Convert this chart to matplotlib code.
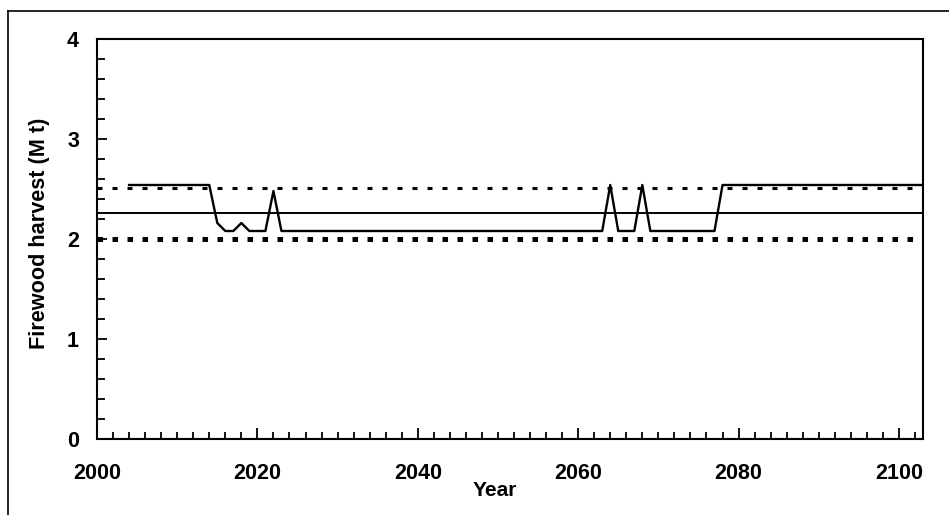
import matplotlib
matplotlib.use("Agg")
import matplotlib.pyplot as plt
from matplotlib.lines import Line2D
from matplotlib.ticker import MultipleLocator

plt.rcParams['font.family'] = ['Liberation Sans', 'DejaVu Sans']
plt.rcParams['font.weight'] = 'bold'
plt.rcParams['lines.scale_dashes'] = False

# annual firewood harvest, Mt
years = list(range(2004, 2104))
harvest = [
    2.54, 2.54, 2.54, 2.54, 2.54, 2.54, 2.54, 2.54, 2.54, 2.54,
    2.54, 2.16, 2.08, 2.08, 2.16, 2.08, 2.08, 2.08, 2.48, 2.08,
    2.08, 2.08, 2.08, 2.08, 2.08, 2.08, 2.08, 2.08, 2.08, 2.08,
    2.08, 2.08, 2.08, 2.08, 2.08, 2.08, 2.08, 2.08, 2.08, 2.08,
    2.08, 2.08, 2.08, 2.08, 2.08, 2.08, 2.08, 2.08, 2.08, 2.08,
    2.08, 2.08, 2.08, 2.08, 2.08, 2.08, 2.08, 2.08, 2.08, 2.08,
    2.54, 2.08, 2.08, 2.08, 2.54, 2.08, 2.08, 2.08, 2.08, 2.08,
    2.08, 2.08, 2.08, 2.08, 2.54, 2.54, 2.54, 2.54, 2.54, 2.54,
    2.54, 2.54, 2.54, 2.54, 2.54, 2.54, 2.54, 2.54, 2.54, 2.54,
    2.54, 2.54, 2.54, 2.54, 2.54, 2.54, 2.54, 2.54, 2.54, 2.54,
]
mean_harvest = 2.26
upper_limit = 2.51
lower_limit = 2.00

fig = plt.figure(figsize=(9.49, 5.15), dpi=100)
ax = fig.add_axes([97 / 949, 76 / 515, 826 / 949, 400 / 515])

# outer chart frame (left and top edges only visible)
fx, fy = 8 / 949, 1 - 11 / 515
fig.add_artist(Line2D([fx, fx], [0, fy], transform=fig.transFigure, color='black', lw=1.2))
fig.add_artist(Line2D([fx, 1], [fy, fy], transform=fig.transFigure, color='black', lw=1.2))

ax.axhline(upper_limit, color='black', lw=2.2, dashes=(3.6, 7.2))
ax.axhline(lower_limit, color='black', lw=3.6, dashes=(4.0, 6.8))
ax.axhline(mean_harvest, color='black', lw=1.4)
ax.plot(years, harvest, color='black', lw=1.7)

ax.set_xlim(2000, 2103)
ax.set_ylim(0, 4)
ax.xaxis.set_major_locator(MultipleLocator(20))
ax.xaxis.set_minor_locator(MultipleLocator(2))
ax.yaxis.set_major_locator(MultipleLocator(1))
ax.yaxis.set_minor_locator(MultipleLocator(0.2))

for s in ax.spines.values():
    s.set_linewidth(1.5)
ax.tick_params(which='both', direction='in', width=1.3, labelsize=15.5)
ax.tick_params(axis='x', which='major', length=8, pad=17)
ax.tick_params(axis='x', which='minor', length=5)
ax.tick_params(axis='y', which='major', length=7, pad=13)
ax.tick_params(axis='y', which='minor', length=6)
ax.tick_params(top=False, right=False)

ax.set_xlabel('Year', fontsize=15, fontweight='bold')
ax.set_ylabel('Firewood harvest (M t)', fontsize=15.6, fontweight='bold')
ax.xaxis.set_label_coords(0.482, -0.106)
ax.yaxis.set_label_coords(-0.057, 0.514)

fig.savefig('out.png', dpi=100)
